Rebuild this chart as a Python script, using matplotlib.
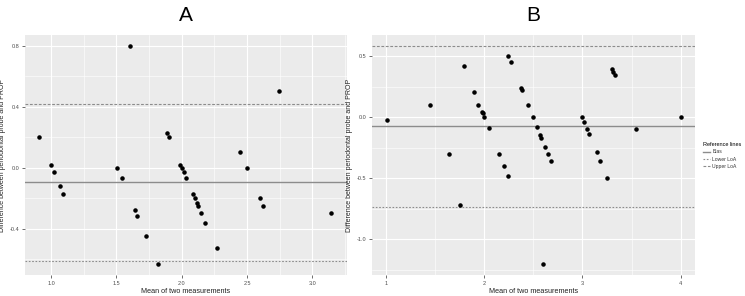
import numpy as np
import matplotlib
matplotlib.use("Agg")
import matplotlib.pyplot as plt
from matplotlib.lines import Line2D
from matplotlib.ticker import MultipleLocator

plt.rcParams['font.family'] = ['Liberation Sans', 'DejaVu Sans']

# panel A data
a_mean = [0.906, 1.0, 1.02, 1.066, 1.09, 1.604, 1.505, 1.54, 1.642, 1.66, 1.726, 1.817,
          1.886, 1.90, 1.99, 2.0, 2.015, 2.036, 2.084, 2.10, 2.114, 2.124, 2.15, 2.18,
          2.266, 2.447, 2.497, 2.746, 2.6, 2.62, 3.142]
a_diff = [0.2, 0.02, -0.03, -0.12, -0.17, 0.8, 0.0, -0.07, -0.28, -0.32, -0.45, -0.632,
          0.23, 0.2, 0.02, 0.0, -0.03, -0.07, -0.17, -0.2, -0.23, -0.25, -0.3, -0.36,
          -0.53, 0.1, 0.0, 0.5, -0.2, -0.25, -0.3]
a_bias, a_lower, a_upper = -0.096, -0.610, 0.416

# panel B data
b_mean = [1.01, 1.444, 1.644, 1.756, 1.79, 1.898, 1.942, 1.976, 1.983, 2.0, 2.044, 2.146,
          2.197, 2.244, 2.244, 2.27, 2.376, 2.386, 2.45, 2.498, 2.536, 2.573, 2.583, 2.624,
          2.651, 2.68, 2.6, 2.997, 3.017, 3.05, 3.068, 3.146, 3.18, 3.247, 3.305, 3.315,
          3.332, 3.549, 4.0]
b_diff = [-0.025, 0.1, -0.3, -0.716, 0.424, 0.205, 0.1, 0.044, 0.036, 0.0, -0.087, -0.3,
          -0.396, -0.484, 0.505, 0.454, 0.243, 0.224, 0.1, 0.0, -0.077, -0.148, -0.169, -0.246,
          -0.3, -0.358, -1.202, 0.0, -0.036, -0.098, -0.137, -0.287, -0.358, -0.497, 0.393, 0.374,
          0.344, -0.098, 0.0]
b_bias, b_lower, b_upper = -0.071, -0.738, 0.587

ylab = 'Difference between periodontal probe and PROP'
xlab = 'Mean of two measurements'

fig = plt.figure(figsize=(7.45, 2.96), dpi=100)
axA = fig.add_axes([25/745, 1-275/296, 322/745, 240/296])
axB = fig.add_axes([372/745, 1-275/296, 323/745, 240/296])

def style(ax, xmaj, ymaj):
    ax.set_facecolor('#EBEBEB')
    for s in ax.spines.values():
        s.set_visible(False)
    ax.xaxis.set_major_locator(MultipleLocator(xmaj))
    ax.xaxis.set_minor_locator(MultipleLocator(xmaj/2))
    ax.yaxis.set_major_locator(MultipleLocator(ymaj))
    ax.yaxis.set_minor_locator(MultipleLocator(ymaj/2))
    ax.grid(which='major', color='white', lw=0.8)
    ax.grid(which='minor', color='white', lw=0.4)
    ax.set_axisbelow(True)
    ax.tick_params(which='major', length=2, width=0.5, color='#333333',
                   labelsize=4, labelcolor='#4D4D4D', pad=2)
    ax.tick_params(which='minor', length=0)
    ax.set_xlabel(xlab, fontsize=5.2, color='#222222', labelpad=2)
    ax.set_ylabel(ylab, fontsize=5, color='#222222', labelpad=3)

def draw(ax, x, y, bias, lo, up):
    ax.axhline(bias, color='#8C8C8C', lw=1.0)
    ax.axhline(lo, color='#8C8C8C', lw=0.8, ls=(0, (1.5, 1.5)))
    ax.axhline(up, color='#8C8C8C', lw=0.8, ls=(0, (2.5, 1.5)))
    ax.scatter(x, y, s=5, color='black', zorder=3)

draw(axA, a_mean, a_diff, a_bias, a_lower, a_upper)
style(axA, 0.5, 0.4)
axA.set_xlim(0.80, 3.265)
axA.set_ylim(-0.704, 0.870)
axA.xaxis.set_major_formatter(lambda v, p: f'{v:.1f}')
axA.yaxis.set_major_formatter(lambda v, p: f'{v:.1f}')
axA.set_title('A', fontsize=15, pad=10)

draw(axB, b_mean, b_diff, b_bias, b_lower, b_upper)
style(axB, 1, 0.5)
axB.set_xlim(0.858, 4.146)
axB.set_ylim(-1.292, 0.675)
axB.xaxis.set_major_formatter(lambda v, p: f'{v:.0f}')
axB.yaxis.set_major_formatter(lambda v, p: f'{v:.1f}')
axB.set_title('B', fontsize=15, pad=10)

handles = [Line2D([], [], color='#8C8C8C', lw=1.0),
           Line2D([], [], color='#8C8C8C', lw=0.8, ls=(0, (1.5, 1.5))),
           Line2D([], [], color='#8C8C8C', lw=0.8, ls=(0, (2.5, 1.5)))]
leg = fig.legend(handles, ['Bias', 'Lower LoA', 'Upper LoA'], title='Reference lines',
                 loc='upper left', bbox_to_anchor=(701/745, 1-140/296), frameon=False,
                 fontsize=3.6, title_fontsize=4.0, handlelength=1.4, handletextpad=0.5,
                 labelspacing=0.45, borderaxespad=0)
leg._legend_box.align = 'left'
for t in leg.get_texts():
    t.set_color('#333333')

fig.savefig('out.png', dpi=100)
